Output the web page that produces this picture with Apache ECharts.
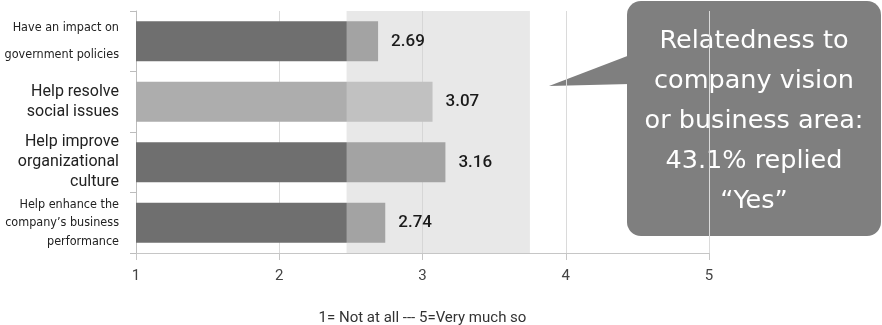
<!DOCTYPE html>
<html>
<head>
<meta charset="utf-8">
<title>Purpose of social contribution activities</title>
<script src="https://cdn.jsdelivr.net/npm/echarts@6/dist/echarts.min.js"></script>
<style>
  html, body { margin: 0; padding: 0; background: #ffffff; }
  #chart { width: 882px; height: 325px; }
</style>
</head>
<body>
<div id="chart"></div>
<script>
// Survey items, top to bottom
const categories = [
  'Have an impact on\ngovernment policies',
  'Help resolve\nsocial issues',
  'Help improve\norganizational\nculture',
  'Help enhance the\ncompany\u2019s business\nperformance'
];
// Mean scores on a 1-5 scale
const scores = [2.69, 3.07, 3.16, 2.74];
// Scale ticks
const scaleMin = 1;
const scaleMax = 5;
const scaleStep = 1;
const scaleNote = '1= Not at all --- 5=Very much so';
// Highlighted score band
const bandRange = [2.47, 3.75];
// Callout text
const calloutLines = ['Relatedness to', 'company vision', 'or business area:', '43.1% replied', '\u201cYes\u201d'];

const mainFont = 'Roboto, "Noto Sans", sans-serif';
const narrowFont = '"DejaVu Sans Condensed", Roboto, sans-serif';

// Bar colours and label styles per row
const barColors = ['#6f6f6f', '#adadad', '#6f6f6f', '#6f6f6f'];
const labelStyleKeys = ['n1', 'w', 'w', 'n2'];

const chart = echarts.init(document.getElementById('chart'), null, { renderer: 'canvas' });

const option = {
  animation: false,
  backgroundColor: '#ffffff',
  grid: { left: 136, right: 173, top: 11, bottom: 72, containLabel: false, outerBoundsMode: 'none' },
  xAxis: {
    type: 'value',
    min: scaleMin,
    max: scaleMax,
    interval: scaleStep,
    startValue: scaleMin,
    name: scaleNote,
    nameLocation: 'middle',
    nameGap: 58,
    nameTextStyle: { fontFamily: mainFont, fontSize: 15, color: '#333' },
    axisLine: { show: true, lineStyle: { color: '#c6c6c6', width: 1 } },
    axisTick: { show: true, length: 7, lineStyle: { color: '#c6c6c6' } },
    axisLabel: { margin: 16, fontFamily: mainFont, fontSize: 15, color: '#444' },
    splitLine: { show: true, lineStyle: { color: '#dadada', width: 1 } }
  },
  yAxis: {
    type: 'category',
    inverse: true,
    data: categories,
    axisLine: { show: true, lineStyle: { color: '#bdbdbd' } },
    axisTick: { show: true, length: 6, lineStyle: { color: '#bdbdbd' } },
    axisLabel: {
      margin: 17,
      formatter: function (value, index) {
        const key = labelStyleKeys[index];
        return value.split('\n').map(function (line) { return '{' + key + '|' + line + '}'; }).join('\n');
      },
      rich: {
        n1: { fontFamily: narrowFont, fontSize: 12.5, lineHeight: 27, color: '#222' },
        w: { fontFamily: mainFont, fontSize: 16, lineHeight: 20, color: '#222' },
        n2: { fontFamily: narrowFont, fontSize: 12.5, lineHeight: 18.5, color: '#222' }
      }
    }
  },
  series: [
    {
      name: 'score',
      type: 'bar',
      z: 2,
      barWidth: 40,
      barGap: '-100%',
      data: scores.map(function (v, i) {
        return { value: v, itemStyle: { color: barColors[i] } };
      }),
      silent: true
    },
    {
      // transparent copy carrying the value labels and the band overlay
      name: 'labels',
      type: 'bar',
      z: 5,
      barWidth: 40,
      barGap: '-100%',
      data: scores,
      itemStyle: { color: 'rgba(0,0,0,0)' },
      silent: true,
      label: {
        show: true,
        position: 'right',
        distance: 13,
        fontFamily: mainFont,
        fontSize: 17,
        fontWeight: 500,
        color: '#1a1a1a',
        formatter: function (p) { return p.value.toFixed(2); }
      },
      markArea: {
        z: 3,
        silent: true,
        itemStyle: { color: 'rgba(211,211,211,0.52)' },
        label: { show: false },
        data: [[{ xAxis: bandRange[0] }, { xAxis: bandRange[1] }]]
      }
    }
  ],
  graphic: [
    {
      type: 'group',
      z: 10,
      children: [
        {
          type: 'polygon',
          shape: { points: [[549, 86], [630, 55], [630, 84]] },
          style: { fill: '#7f7f7f' }
        },
        {
          type: 'rect',
          shape: { x: 627, y: 1, width: 254, height: 235, r: 14 },
          style: { fill: '#7f7f7f' }
        },
        {
          type: 'text',
          x: 754,
          y: 121,
          style: {
            text: calloutLines.join('\n'),
            fill: '#ffffff',
            fontFamily: '"DejaVu Sans", sans-serif',
            fontSize: 25.5,
            lineHeight: 40,
            align: 'center',
            verticalAlign: 'middle'
          }
        }
      ]
    }
  ]
};

chart.setOption(option);
</script>
</body>
</html>
